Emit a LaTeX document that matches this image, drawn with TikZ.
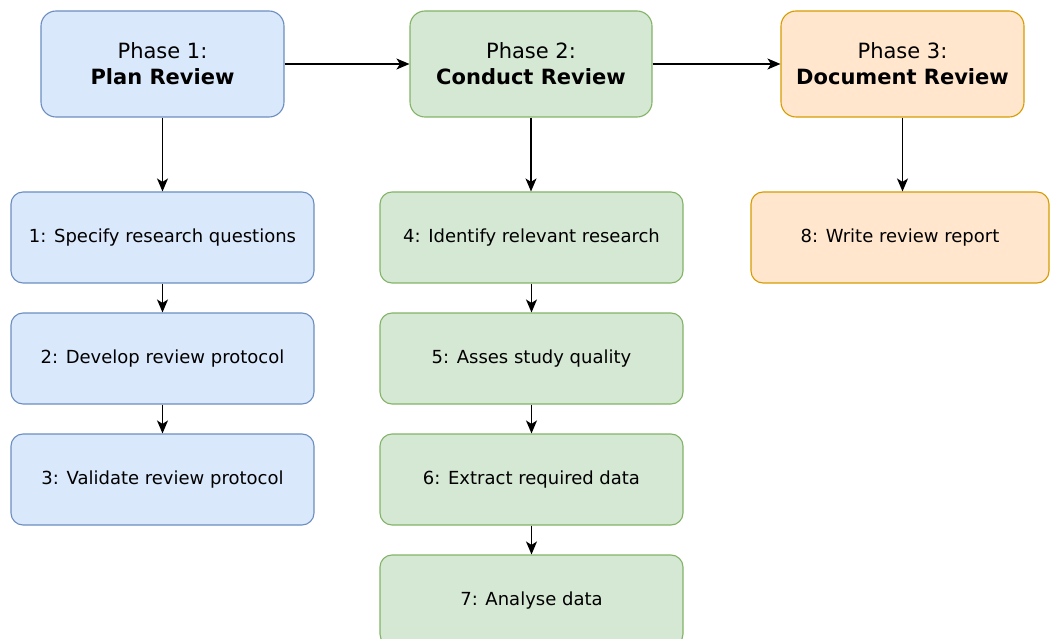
\documentclass[tikz,border=0pt]{standalone}
\usepackage{fontspec}
\setmainfont{DejaVu Sans}
\usetikzlibrary{arrows.meta}
\definecolor{bfill}{HTML}{DAE8FC}\definecolor{bdraw}{HTML}{6C8EBF}
\definecolor{gfill}{HTML}{D5E8D4}\definecolor{gdraw}{HTML}{82B366}
\definecolor{ofill}{HTML}{FFE6CC}\definecolor{odraw}{HTML}{D79B00}
\tikzset{
  phasebox/.style={rounded corners=15pt, minimum width=243pt, minimum height=106pt, inner sep=0pt, line width=1.1pt, align=center, font=\fontsize{21}{26}\selectfont},
  stepbox/.style={rounded corners=12pt, minimum width=303pt, minimum height=91pt, inner sep=0pt, line width=1.1pt, align=center, font=\fontsize{18}{21}\selectfont},
  blue/.style={fill=bfill, draw=bdraw},
  green/.style={fill=gfill, draw=gdraw},
  orange/.style={fill=ofill, draw=odraw},
  conn/.style={-{Stealth[length=13pt,width=11pt,inset=3.5pt]}, line width=1.5pt, black}
}
\begin{document}
\begin{tikzpicture}[x=1pt,y=-1pt]
\useasboundingbox (0,0) rectangle (1050,639);
\clip (0,0) rectangle (1050,639);
\node[phasebox,blue] (p1) at (162.5,64) {Phase 1:\\\textbf{Plan Review}};
\node[phasebox,green, minimum width=242pt] (p2) at (531,64) {Phase 2:\\\textbf{Conduct Review}};
\node[phasebox,orange] (p3) at (902.5,64) {Phase 3:\\\textbf{Document Review}};
\node[stepbox,blue] (s1) at (162.5,237.5) {1: Specify research questions};
\node[stepbox,blue] (s2) at (162.5,358.5) {2: Develop review protocol};
\node[stepbox,blue] (s3) at (162.5,479.5) {3: Validate review protocol};
\node[stepbox,green] (s4) at (531.5,237.5) {4: Identify relevant research};
\node[stepbox,green] (s5) at (531.5,358.5) {5: Asses study quality};
\node[stepbox,green] (s6) at (531.5,479.5) {6: Extract required data};
\node[stepbox,green] (s7) at (531.5,600.5) {7: Analyse data};
\node[stepbox,orange, minimum width=298pt] (s8) at (900,237.5) {8: Write review report};
\draw[conn] (p1) -- (p2);
\draw[conn] (p2) -- (p3);
\draw[conn] (p1) -- (s1);
\draw[conn] (s1) -- (s2);
\draw[conn] (s2) -- (s3);
\draw[conn] (p2) -- (p2 |- s4.north);
\draw[conn] (s4) -- (s5);
\draw[conn] (s5) -- (s6);
\draw[conn] (s6) -- (s7);
\draw[conn] (p3) -- (p3 |- s8.north);
\end{tikzpicture}
\end{document}
